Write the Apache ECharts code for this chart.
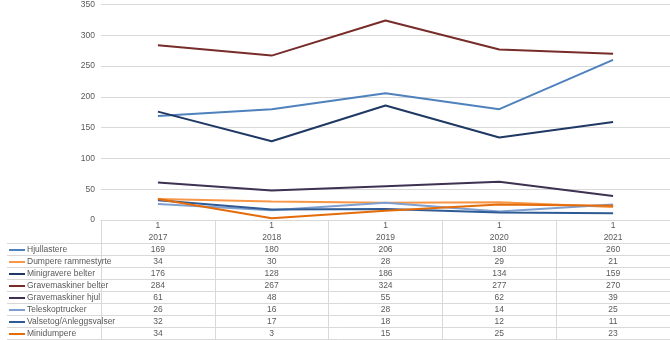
<!DOCTYPE html>
<html>
<head>
<meta charset="utf-8">
<script src="https://cdn.jsdelivr.net/npm/echarts@6/dist/echarts.min.js"></script>
<style>
  html, body { margin: 0; padding: 0; background: #fff; }
  #chart { width: 670px; height: 340px; }
</style>
</head>
<body>
<div id="chart"></div>
<script>
// ---- data ----
const topLabels = ['1', '1', '1', '1', '1'];
const years = ['2017', '2018', '2019', '2020', '2021'];
const seriesNames = [
  'Hjullastere',
  'Dumpere rammestyrte',
  'Minigravere belter',
  'Gravemaskiner belter',
  'Gravemaskiner hjul',
  'Teleskoptrucker',
  'Valsetog/Anleggsvalser',
  'Minidumpere'
];
const hjullastere        = [169, 180, 206, 180, 260];
const dumpereRammestyrte = [34, 30, 28, 29, 21];
const minigravereBelter  = [176, 128, 186, 134, 159];
const gravemaskinerBelter= [284, 267, 324, 277, 270];
const gravemaskinerHjul  = [61, 48, 55, 62, 39];
const teleskoptrucker    = [26, 16, 28, 14, 25];
const valsetog           = [32, 17, 18, 12, 11];
const minidumpere        = [34, 3, 15, 25, 23];
const yTicks = [0, 50, 100, 150, 200, 250, 300, 350];

const seriesData = [hjullastere, dumpereRammestyrte, minigravereBelter, gravemaskinerBelter,
                    gravemaskinerHjul, teleskoptrucker, valsetog, minidumpere];
const colors = ['#4f81bd', '#f79646', '#1f3864', '#772c2a', '#3f3151', '#7f9fcf', '#2e5a95', '#e46c0a'];

// ---- layout ----
const W = 670, H = 340;
const gridLeft = 101, gridTop = 3, axisY = 220;
const rowH = 12;
const firstRowLine = 243;
const textColor = '#595959';
const lineColor = '#d9d9d9';
const fontFam = '"Liberation Sans Narrow", "Liberation Sans", sans-serif';
const fs = 8.5;

const chart = echarts.init(document.getElementById('chart'), null, { renderer: 'canvas' });

const graphics = [];
for (let i = 0; i <= seriesNames.length; i++) {
  const y = firstRowLine + i * rowH + 0.5;
  graphics.push({
    type: 'line', silent: true,
    shape: { x1: 7, y1: y, x2: W, y2: y },
    style: { stroke: lineColor, lineWidth: 1 }
  });
}

const option = {
  animation: false,
  color: colors,
  grid: { left: gridLeft, right: -1, top: gridTop, bottom: H - axisY, containLabel: false },
  xAxis: {
    type: 'category',
    data: years,
    boundaryGap: true,
    axisLine: { show: true, lineStyle: { color: lineColor, width: 1 } },
    axisTick: { show: true, length: H - axisY, interval: 0, lineStyle: { color: lineColor } },
    axisLabel: {
      interval: 0,
      margin: 0,
      color: textColor,
      fontSize: fs,
      fontFamily: fontFam,
      lineHeight: rowH,
      formatter: function (v, idx) {
        const lines = [topLabels[idx], years[idx]];
        seriesData.forEach(d => lines.push(String(d[idx])));
        return lines.join('\n');
      }
    },
    splitLine: { show: false }
  },
  yAxis: {
    type: 'value',
    min: yTicks[0],
    max: yTicks[yTicks.length - 1],
    interval: 50,
    axisLine: { show: false },
    axisTick: { show: false },
    axisLabel: { color: textColor, fontSize: fs, fontFamily: fontFam, margin: 6 },
    splitLine: { lineStyle: { color: lineColor, width: 1 } }
  },
  legend: {
    orient: 'vertical',
    left: 9,
    top: firstRowLine + 1,
    itemGap: 0,
    itemWidth: 16,
    itemHeight: 2,
    icon: 'rect',
    padding: 0,
    data: seriesNames,
    textStyle: { color: textColor, fontSize: fs, fontFamily: fontFam, lineHeight: rowH, padding: [0, 0, 0, -3] }
  },
  graphic: graphics,
  series: seriesNames.map((name, i) => ({
    name: name,
    type: 'line',
    data: seriesData[i],
    symbol: 'none',
    lineStyle: { width: 2, color: colors[i] },
    itemStyle: { color: colors[i] }
  }))
};

chart.setOption(option);
</script>
</body>
</html>
